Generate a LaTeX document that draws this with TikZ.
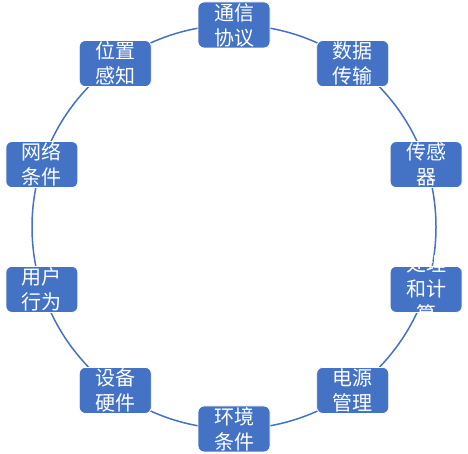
\documentclass[tikz,border=0pt]{standalone}
\usepackage{fontspec}
\newfontfamily\cjk{Noto Sans CJK SC}
\definecolor{officeblue}{HTML}{4472C4}
\tikzset{
  ring/.style={draw=officeblue, line width=1.5pt},
  stepbox/.style={draw=white, line width=0.8pt, fill=officeblue, rounded corners=6pt,
    minimum width=72pt, minimum height=46pt, inner sep=0pt},
  steptext/.style={text=white, font=\cjk\fontsize{20}{25}\selectfont, align=center, inner sep=0pt}
}
\begin{document}
\begin{tikzpicture}[x=1pt,y=1pt]
\useasboundingbox (0,0) rectangle (468,454);
\coordinate (c) at (234,227);
\draw[ring] (c) circle[radius=202pt];
% ten factors round the ring
\foreach \ang/\nm/\txt in {90/tx/{通信\\协议}, 54/sj/{数据\\传输}, 18/cg/{传感\\器},
  -18/cl/{处理\\和计\\算}, -54/dy/{电源\\管理}, -90/hj/{环境\\条件},
  -126/sb/{设备\\硬件}, -162/yh/{用户\\行为}, 162/wl/{网络\\条件}, 126/wz/{位置\\感知}} {
  \node[stepbox] (b\nm) at ([shift={(\ang:202pt)}]c) {};
  \node[steptext] (t\nm) at (b\nm.center) {\txt};
}
\end{tikzpicture}
\end{document}
